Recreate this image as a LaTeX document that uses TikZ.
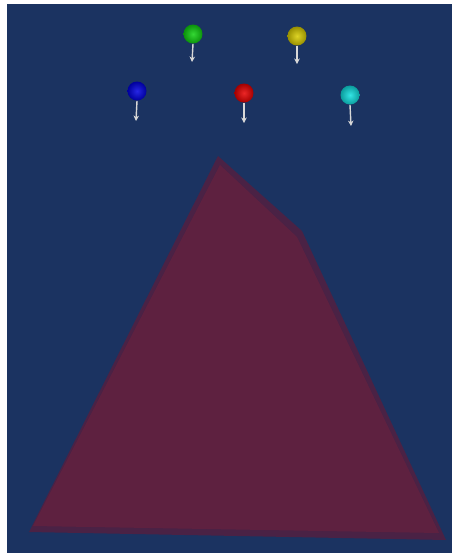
\documentclass[tikz,border=0pt]{standalone}
\usepackage{xcolor}
\usepackage{tikz}
\usetikzlibrary{arrows.meta}
\definecolor{scenebg}{HTML}{1B3361}
\definecolor{slabface}{HTML}{5E2140}
\definecolor{slabedge}{HTML}{4A2245}
\definecolor{stemgray}{HTML}{D8D8D8}
\definecolor{ballgreen}{HTML}{10D010}
\definecolor{ballyellow}{HTML}{D8CC00}
\definecolor{ballblue}{HTML}{0000E0}
\definecolor{ballred}{HTML}{E80000}
\definecolor{ballcyan}{HTML}{10E0E0}
\tikzset{
  balloon/.style={circle,inner color=#1!85!white,outer color=#1!70!black,
    minimum size=0.38cm,inner sep=0pt},
  stem/.style={draw=stemgray,line width=0.8pt,-{Stealth[length=1.1mm,width=1.1mm]}}
}
\begin{document}
\begin{tikzpicture}[x=0.02cm,y=-0.02cm]
  \useasboundingbox[fill=white] (0,0) rectangle (454,556);
  \fill[scenebg] (7,4) rectangle (452,553);
  % slab
  \fill[slabedge] (218,156) -- (302,231) -- (446,540) -- (29,532) -- cycle;
  \fill[slabface] (220,165) -- (297,237) -- (439,533) -- (33,526) -- cycle;
  % balloons
  \node[balloon=ballgreen] (green) at (193,34) {};
  \node[balloon=ballyellow] (yellow) at (297,36) {};
  \node[balloon=ballblue] (blue) at (137,91) {};
  \node[balloon=ballred] (red) at (244,93) {};
  \node[balloon=ballcyan] (cyan) at (350,95) {};
  \coordinate (greentip) at (192,62);
  \coordinate (yellowtip) at (297,64);
  \coordinate (bluetip) at (136,121);
  \coordinate (redtip) at (244,123);
  \coordinate (cyantip) at (351,126);
  \foreach \b in {green,yellow,blue,red,cyan}
    \draw[stem] (\b.south) -- (\b tip);
\end{tikzpicture}
\end{document}
